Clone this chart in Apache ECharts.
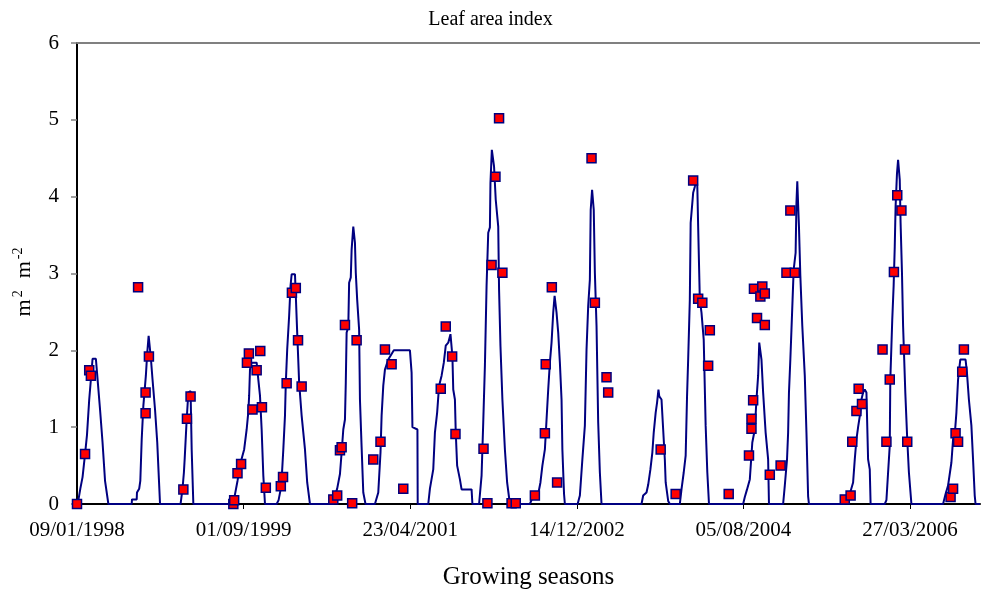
<!DOCTYPE html>
<html>
<head>
<meta charset="utf-8">
<script src="https://cdn.jsdelivr.net/npm/echarts@6/dist/echarts.min.js"></script>
<style>html,body{margin:0;padding:0;background:#fff}#c{width:981px;height:595px}</style>
</head>
<body>
<div id="c"></div>
<script>
// x values: days since 09/01/1998
const xTickStep = 600;
const xMaxDay = 3252;
const xTickLabels = ['09/01/1998', '01/09/1999', '23/04/2001', '14/12/2002', '05/08/2004', '27/03/2006'];
const yTicks = [0, 1, 2, 3, 4, 5, 6];

// Simulated LAI (line), one array per growing season: [day, LAI]
const season1 = [[0,0],[5,0.05],[12,0.2],[20,0.35],[29,0.65],[36,0.9],[44,1.36],[53,1.75],[56,1.89],[68,1.89],[73,1.67],[83,1.23],[92,0.8],[101,0.3],[113,0]];
const season2 = [[197,0],[198,0.06],[215,0.06],[216,0.15],[224,0.2],[228,0.3],[233,0.84],[239,1.28],[248,1.67],[253,1.97],[258,2.19],[262,2.19],[266,1.9],[272,1.62],[281,1.23],[289,0.8],[295,0.32],[299,0]];
const season3 = [[373,0],[380,0.2],[385,0.41],[388,0.6],[395,1.1],[401,1.45],[404,1.47],[409,1.47],[413,0.71],[419,0]];
const season4 = [[545,0],[552,0.03],[565,0.05],[578,0.3],[584,0.32],[590,0.55],[602,0.71],[611,0.97],[617,1.2],[620,1.41],[623,1.75],[629,1.84],[647,1.84],[653,1.62],[659,1.41],[665,0.97],[671,0.37],[677,0]];
const season5 = [[719,0],[726,0.05],[734,0.2],[737,0.32],[743,0.71],[749,1.15],[752,1.58],[757,2.01],[764,2.45],[769,2.84],[773,2.99],[785,2.99],[788,2.71],[793,2.23],[800,1.58],[809,1.15],[821,0.71],[829,0.28],[839,0]];
const season6 = [[923,0],[925,0.06],[937,0.2],[947,0.39],[953,0.67],[959,0.97],[965,1.1],[968,1.58],[971,2.23],[977,2.3],[980,2.88],[986,2.95],[989,3.31],[995,3.61],[1001,3.4],[1004,3.01],[1009,2.66],[1016,2.27],[1019,1.36],[1025,0.74],[1031,0.15],[1039,0]];
const season7 = [[1073,0],[1085,0.15],[1093,0.67],[1097,1.15],[1103,1.54],[1109,1.75],[1121,1.88],[1141,2.0],[1199,2.0],[1205,1.71],[1208,1.0],[1226,0.97],[1227,0]];
const season8 = [[1265,0],[1271,0.2],[1283,0.45],[1289,0.93],[1297,1.19],[1304,1.54],[1313,1.67],[1321,1.84],[1328,2.06],[1337,2.1],[1345,2.21],[1348,2.19],[1352,1.92],[1355,1.49],[1361,1.36],[1364,0.93],[1369,0.5],[1379,0.32],[1385,0.19],[1421,0.19],[1424,0]];
const season9 = [[1448,0],[1457,0.37],[1463,1.06],[1469,1.8],[1475,2.84],[1481,3.53],[1487,3.6],[1489,4.18],[1494,4.61],[1497,4.61],[1502,4.39],[1508,3.96],[1517,3.61],[1520,2.79],[1525,2.06],[1532,1.36],[1541,0.71],[1549,0.28],[1559,0]];
const season10 = [[1631,0],[1640,0.08],[1661,0.13],[1669,0.28],[1676,0.5],[1685,0.71],[1691,1.1],[1697,1.49],[1703,1.84],[1709,2.1],[1715,2.49],[1720,2.71],[1724,2.71],[1727,2.49],[1733,2.23],[1739,1.84],[1745,1.36],[1748,0.71],[1754,0.13],[1757,0]];
const season11 = [[1803,0],[1811,0.11],[1820,0.58],[1829,1.02],[1835,2.01],[1841,2.58],[1847,2.92],[1850,3.83],[1855,4.09],[1858,4.09],[1861,3.83],[1865,3.01],[1871,2.32],[1877,1.06],[1883,0.41],[1889,0]];
const season12 = [[2033,0],[2039,0.11],[2051,0.15],[2057,0.25],[2065,0.45],[2072,0.67],[2077,0.93],[2084,1.19],[2089,1.32],[2094,1.49],[2097,1.4],[2105,1.36],[2111,0.97],[2117,0.58],[2120,0.28],[2129,0.04],[2135,0]];
const season13 = [[2171,0],[2177,0.19],[2185,0.41],[2192,0.63],[2197,1.41],[2201,1.88],[2207,2.66],[2210,3.66],[2219,4.05],[2225,4.13],[2231,4.25],[2234,4.13],[2237,3.61],[2243,2.66],[2249,2.49],[2257,2.14],[2264,1.02],[2270,0.41],[2276,0]];
const season14 = [[2399,0],[2405,0.09],[2413,0.19],[2423,0.32],[2432,0.8],[2441,0.97],[2447,1.36],[2453,1.67],[2457,2.1],[2460,2.1],[2465,1.88],[2471,1.45],[2480,0.93],[2489,0.58],[2492,0]];
const season15 = [[2543,0],[2549,0.24],[2557,0.58],[2561,0.93],[2564,1.45],[2569,1.88],[2573,2.27],[2577,2.66],[2581,3.05],[2588,3.27],[2591,3.92],[2594,4.2],[2597,3.9],[2600,3.61],[2605,2.97],[2612,2.32],[2621,1.67],[2627,0.93],[2633,0.1],[2636,0]];
const season16 = [[2760,0],[2771,0.02],[2783,0.13],[2795,0.28],[2801,0.58],[2807,0.84],[2813,1.0],[2821,1.19],[2825,1.36],[2831,1.45],[2837,1.49],[2843,1.45],[2849,0.58],[2855,0.45],[2858,0]];
const season17 = [[2909,0],[2915,0.05],[2921,0.41],[2927,0.76],[2929,1.62],[2933,2.06],[2936,2.4],[2941,2.84],[2945,3.35],[2948,3.87],[2953,4.3],[2957,4.48],[2960,4.48],[2963,4.22],[2966,3.66],[2971,3.01],[2975,2.32],[2983,1.45],[2990,0.84],[2996,0.41],[3005,0]];
const season18 = [[3119,0],[3128,0.13],[3137,0.24],[3149,0.54],[3155,0.84],[3161,0.9],[3167,1.19],[3173,1.62],[3181,1.88],[3200,1.88],[3205,1.71],[3212,1.36],[3221,1.02],[3227,0.58],[3233,0.11],[3236,0],[3252,0]];

// Observed LAI (squares)
const obsDay = [0,29,44,50, 220,247,247,259, 383,396,409,
  563,566,578,591,612,619,632,647,660,666,680,
  734,742,755,774,788,796,809,
  923,937,947,953,965,991,1007,
  1067,1093,1109,1133,1175,
  1310,1328,1351,1363,
  1464,1478,1493,1507,1520,1532,1565,1580,
  1649,1685,1688,1710,1729,
  1853,1865,1907,1913,
  2102,2156,
  2219,2237,2252,2273,2279,
  2347,
  2420,2429,2429,2435,2438,2449,2461,2468,2477,2477,2495,2534,
  2555,2569,2585,
  2765,2786,2792,2807,2815,2827,
  2901,2915,2927,2942,2954,2969,2982,2990,
  3146,3155,3164,3173,3188,3194];
const obsLai = [0,0.65,1.74,1.67, 2.82,1.45,1.18,1.92, 0.19,1.11,1.40,
  0,0.05,0.40,0.52,1.84,1.96,1.23,1.74,1.99,1.26,0.21,
  0.23,0.35,1.57,2.75,2.81,2.13,1.53,
  0.06,0.11,0.70,0.74,2.33,0.01,2.13,
  0.58,0.81,2.01,1.82,0.20,
  1.50,2.31,1.92,0.91,
  0.72,0.01,3.11,4.26,5.02,3.01,0.01,0.01,
  0.11,0.92,1.82,2.82,0.28,
  4.50,2.62,1.65,1.45,
  0.71,0.13,
  4.21,2.67,2.62,1.80,2.26,
  0.13,
  0.63,0.98,1.11,1.35,2.80,2.42,2.70,2.83,2.74,2.33,0.38,0.50,
  3.01,3.82,3.01,
  0.06,0.11,0.81,1.21,1.50,1.30,
  2.01,0.81,1.62,3.02,4.02,3.82,2.01,0.81,
  0.09,0.20,0.92,0.81,1.72,2.01];

const simulated = [].concat(season1, season2, season3, season4, season5, season6, season7, season8, season9,
  season10, season11, season12, season13, season14, season15, season16, season17, season18);
const observed = obsDay.map((d, i) => [d, obsLai[i]]);

const FONT = '"Liberation Serif", "Times New Roman", serif';
const chart = echarts.init(document.getElementById('c'), null, { renderer: 'canvas' });
chart.setOption({
  animation: false,
  backgroundColor: '#ffffff',
  title: {
    text: 'Leaf area index', left: 'center', top: 5,
    textStyle: { fontFamily: FONT, fontSize: 20, fontWeight: 'normal', color: '#000' }
  },
  grid: { left: 77, right: 1, top: 43, bottom: 90, containLabel: false },
  xAxis: {
    type: 'value', min: 0, max: xMaxDay, interval: xTickStep,
    name: 'Growing seasons', nameLocation: 'middle', nameGap: 61,
    nameTextStyle: { fontFamily: FONT, fontSize: 25, color: '#000' },
    axisLine: { show: true, onZero: false, lineStyle: { color: '#000', width: 2 } },
    axisTick: { show: true, inside: false, length: 5, lineStyle: { color: '#000', width: 1 } },
    axisLabel: {
      formatter: v => xTickLabels[Math.round(v / xTickStep)] || '',
      margin: 16, fontFamily: FONT, fontSize: 21, color: '#000', showMaxLabel: false
    },
    splitLine: { show: false }
  },
  yAxis: {
    type: 'value', min: yTicks[0], max: yTicks[yTicks.length - 1], interval: 1,
    name: '{n|m}{s|2}{n|  m}{s|-2}', nameLocation: 'middle', nameGap: 42, nameRotate: 90,
    nameTextStyle: {
      padding: [0, 16, 0, 0],
      rich: {
        n: { fontFamily: FONT, fontSize: 22, color: '#000', lineHeight: 24, verticalAlign: 'bottom' },
        s: { fontFamily: FONT, fontSize: 14, color: '#000', lineHeight: 24, verticalAlign: 'top', padding: [0, 1, 0, 2] }
      }
    },
    axisLine: { show: true, lineStyle: { color: '#000', width: 2 } },
    axisTick: { show: true, inside: false, length: 6, lineStyle: { color: '#808080', width: 1.5 } },
    axisLabel: { margin: 18, fontFamily: FONT, fontSize: 21, color: '#000' },
    splitLine: { show: false }
  },
  series: [
    {
      name: 'Simulated', type: 'line', data: simulated, showSymbol: false, symbol: 'none',
      lineStyle: { color: '#000080', width: 2 }, z: 2,
      markLine: {
        silent: true, symbol: ['none', 'none'], label: { show: false },
        lineStyle: { color: '#808080', width: 2, type: 'solid' },
        data: [{ yAxis: yTicks[yTicks.length - 1] }]
      }
    },
    {
      name: 'Observed', type: 'scatter', data: observed, symbol: 'rect', symbolSize: 9,
      itemStyle: { color: '#ff0000', borderColor: '#000080', borderWidth: 1.5, opacity: 1 }, z: 3
    }
  ]
});
</script>
</body>
</html>
